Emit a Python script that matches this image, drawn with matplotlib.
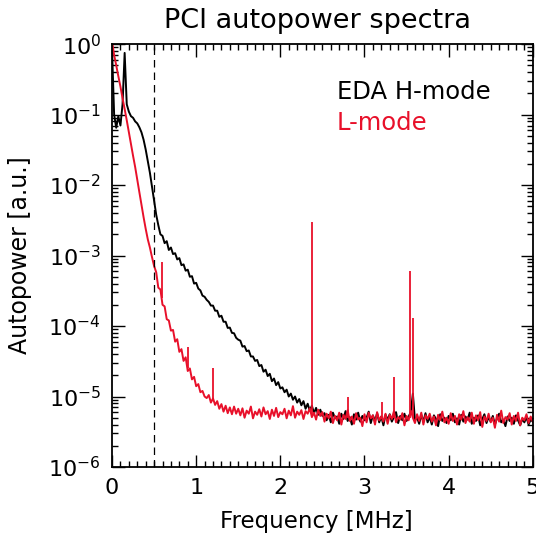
import numpy as np
import matplotlib
matplotlib.use("Agg")
import matplotlib.pyplot as plt
from matplotlib.ticker import MultipleLocator, LogLocator

plt.rcParams['font.family'] = ['DejaVu Sans']
plt.rcParams['mathtext.default'] = 'regular'

# frequency bins [MHz], 0.025 MHz spacing
freq = np.linspace(0.0, 5.0, 201)

# EDA H-mode autopower (black)
power_hmode = [
    0.85, 0.1, 0.065, 0.095, 0.07, 0.14, 0.75, 0.14, 0.11, 0.095,
    0.09, 0.08, 0.075, 0.066, 0.056, 0.044, 0.032, 0.022, 0.015, 0.0095,
    0.006, 0.0038, 0.0027, 0.0020, 0.0019, 0.0015, 0.0016, 0.0012, 0.0013, 0.00105,
    0.00108, 8.8e-4, 9.2e-4, 7.3e-4, 7.5e-4, 6.1e-4, 6.3e-4, 5.0e-4, 5.1e-4, 4.0e-4,
    4.1e-4,
    3.4e-4, 3.2e-4, 2.7e-4, 2.6e-4, 2.35e-4, 2.2e-4, 1.95e-4, 1.95e-4, 1.65e-4, 1.65e-4,
    1.35e-4, 1.4e-4, 1.15e-4, 1.15e-4, 9.4e-5, 9.5e-5, 8.0e-5, 7.9e-5, 6.8e-5, 6.4e-5,
    6.2e-5, 5.1e-5, 5.2e-5, 4.4e-5, 4.5e-5, 3.7e-5, 3.7e-5, 3.2e-5, 3.3e-5, 2.7e-5,
    2.8e-5, 2.25e-5, 2.4e-5, 1.95e-5, 2.1e-5, 1.65e-5, 1.8e-5, 1.45e-5, 1.6e-5, 1.3e-5,
    1.35e-5, 1.15e-5, 1.25e-5, 1.0e-5, 1.1e-5, 9.0e-6, 1.0e-5, 8.2e-6, 9.2e-6, 7.5e-6,
    8.6e-6, 6.7e-6, 7.9e-6, 6.3e-6, 7.4e-6, 5.8e-6, 6.9e-6, 5.5e-6, 6.5e-6, 5.3e-6,
    5.8e-6, 4.6e-6, 5.5e-6, 4.3e-6, 5.9e-6, 4.9e-6, 5.2e-6, 4.1e-6, 5.7e-6, 4.8e-6,
    6.2e-6, 4.5e-6, 5.1e-6, 4.0e-6, 5.6e-6, 4.7e-6, 5.9e-6, 4.4e-6, 5.3e-6, 4.6e-6,
    5.0e-6, 6.1e-6, 4.2e-6, 5.4e-6, 4.5e-6, 5.8e-6, 4.3e-6, 5.2e-6, 3.9e-6, 5.5e-6,
    4.7e-6, 5.6e-6, 4.4e-6, 5.1e-6, 6.0e-6, 4.2e-6, 5.3e-6, 4.6e-6, 5.7e-6, 4.5e-6,
    5.2e-6, 6.0e-6, 1.1e-5, 4.6e-6, 5.0e-6, 4.1e-6, 5.5e-6, 4.4e-6, 5.8e-6, 4.3e-6,
    5.1e-6, 4.0e-6, 5.4e-6, 4.8e-6, 3.8e-6, 5.6e-6, 4.5e-6, 5.0e-6, 4.2e-6, 5.3e-6,
    4.6e-6, 5.7e-6, 4.3e-6, 4.9e-6, 4.0e-6, 5.5e-6, 4.4e-6, 5.2e-6, 4.7e-6, 5.9e-6,
    4.1e-6, 5.0e-6, 4.5e-6, 5.4e-6, 3.9e-6, 4.8e-6, 5.6e-6, 4.2e-6, 5.1e-6, 4.4e-6,
    5.3e-6, 4.0e-6, 4.9e-6, 5.7e-6, 4.3e-6, 4.7e-6, 3.8e-6, 5.2e-6, 4.5e-6, 5.0e-6,
    4.1e-6, 5.4e-6, 4.6e-6, 3.9e-6, 4.8e-6, 4.3e-6, 5.1e-6, 4.0e-6, 4.7e-6, 4.4e-6,
]

# L-mode autopower (red)
power_lmode = [
    1.1, 0.7, 0.5, 0.35, 0.25, 0.17, 0.12, 0.083, 0.056, 0.038,
    0.026, 0.018, 0.012, 0.0079, 0.0052, 0.0035, 0.0024, 0.0017, 0.0013, 9.5e-4,
    7.1e-4, 5.8e-4, 3.5e-4, 3.3e-4, 2.0e-4, 1.9e-4, 1.25e-4, 1.2e-4, 8.6e-5, 8.8e-5,
    6.0e-5, 6.5e-5, 4.3e-5, 4.7e-5, 3.2e-5, 3.6e-5, 2.3e-5, 2.5e-5, 1.75e-5, 1.9e-5,
    1.4e-5,
    1.5e-5, 1.15e-5, 1.2e-5, 1.0e-5, 9.5e-6, 1.05e-5, 8.2e-6, 9.4e-6, 7.6e-6, 8.6e-6,
    6.7e-6, 7.8e-6, 6.1e-6, 7.4e-6, 5.8e-6, 7.0e-6, 5.6e-6, 7.2e-6, 5.7e-6, 6.7e-6,
    5.4e-6, 6.8e-6, 5.0e-6, 6.3e-6, 5.7e-6, 7.2e-6, 4.9e-6, 6.1e-6, 5.5e-6, 6.6e-6,
    5.2e-6, 7.0e-6, 5.6e-6, 6.2e-6, 4.8e-6, 6.5e-6, 5.3e-6, 6.9e-6, 5.1e-6, 6.0e-6,
    5.6e-6, 6.7e-6, 4.9e-6, 6.3e-6, 5.4e-6, 7.3e-6, 5.0e-6, 6.1e-6, 5.5e-6, 6.4e-6,
    4.8e-6, 6.2e-6, 5.7e-6, 6.8e-6, 5.1e-6, 5.9e-6, 4.7e-6, 6.5e-6, 5.3e-6, 6.0e-6,
    4.4e-6, 5.7e-6, 4.9e-6, 6.1e-6, 4.2e-6, 5.3e-6, 4.6e-6, 5.9e-6, 4.0e-6, 5.5e-6,
    4.8e-6, 6.4e-6, 4.5e-6, 5.2e-6, 4.1e-6, 5.8e-6, 4.7e-6, 5.0e-6, 3.8e-6, 5.6e-6,
    4.3e-6, 5.9e-6, 4.9e-6, 5.4e-6, 4.0e-6, 6.0e-6, 4.6e-6, 5.2e-6, 4.4e-6, 5.7e-6,
    4.1e-6, 5.5e-6, 4.8e-6, 6.2e-6, 4.3e-6, 5.1e-6, 4.7e-6, 5.8e-6, 3.9e-6, 5.3e-6,
    4.6e-6, 6.3e-6, 5.0e-6, 4.2e-6, 5.6e-6, 4.5e-6, 5.9e-6, 4.0e-6, 5.4e-6, 4.8e-6,
    5.7e-6, 4.4e-6, 5.2e-6, 3.9e-6, 5.5e-6, 4.6e-6, 6.1e-6, 4.3e-6, 5.0e-6, 4.1e-6,
    5.8e-6, 4.5e-6, 5.3e-6, 4.0e-6, 5.6e-6, 4.7e-6, 6.2e-6, 4.2e-6, 5.1e-6, 4.4e-6,
    5.9e-6, 4.1e-6, 5.4e-6, 4.6e-6, 6.0e-6, 3.7e-6, 5.2e-6, 4.5e-6, 5.7e-6, 4.3e-6,
    5.0e-6, 3.6e-6, 5.5e-6, 4.4e-6, 6.3e-6, 4.2e-6, 5.1e-6, 4.7e-6, 5.8e-6, 4.0e-6,
    5.3e-6, 4.5e-6, 5.9e-6, 3.9e-6, 5.0e-6, 4.6e-6, 5.6e-6, 4.2e-6, 5.2e-6, 4.4e-6,
]

# narrow coherent lines in the L-mode spectrum
spike_freq = [0.59, 0.90, 1.20, 2.38, 2.81, 3.21, 3.35, 3.54, 3.58]
spike_top = [8e-4, 5e-5, 2.5e-5, 3.0e-3, 1.0e-5, 8.3e-6, 1.9e-5, 6.0e-4, 1.3e-4]
spike_base = [2.5e-4, 2.5e-5, 9e-6, 5.5e-6, 5e-6, 5e-6, 5e-6, 5e-6, 5e-6]

cutoff_freq = 0.5
red = '#e8102a'

fig = plt.figure(figsize=(5.36, 5.38), dpi=100)
ax = fig.add_axes([0.209, 0.132, 0.785, 0.786])

ax.plot(freq, power_hmode, color='black', lw=1.4)
ax.plot(freq, power_lmode, color=red, lw=1.4)
ax.vlines(spike_freq, spike_base, spike_top, color=red, lw=1.3)
ax.axvline(cutoff_freq, color='black', lw=0.9, dashes=(6, 4))

ax.set_yscale('log')
ax.set_xlim(0, 5)
ax.set_ylim(1e-6, 1)
ax.xaxis.set_major_locator(MultipleLocator(1))
ax.xaxis.set_minor_locator(MultipleLocator(0.1))
ax.yaxis.set_major_locator(LogLocator(base=10, numticks=10))
ax.yaxis.set_minor_locator(LogLocator(base=10, subs=np.arange(2, 10), numticks=20))
ax.tick_params(which='both', direction='in', top=True, right=True, width=1.0)
ax.tick_params(which='major', length=9, labelsize=16, pad=8)
ax.tick_params(which='minor', length=4.5)
for sp in ax.spines.values():
    sp.set_linewidth(1.3)

fig.text(0.591, 0.030, 'Frequency [MHz]', fontsize=16.5, ha='center', va='center')
fig.text(0.037, 0.526, 'Autopower [a.u.]', fontsize=17, ha='center', va='center',
         rotation=90)
fig.text(0.593, 0.961, 'PCI autopower spectra', fontsize=19.5, ha='center', va='center')

ax.text(0.534, 0.887, 'EDA H-mode', color='black', fontsize=17.5,
        transform=ax.transAxes, va='center', ha='left')
ax.text(0.534, 0.813, 'L-mode', color=red, fontsize=17.5,
        transform=ax.transAxes, va='center', ha='left')

fig.savefig('out.png', dpi=100)
